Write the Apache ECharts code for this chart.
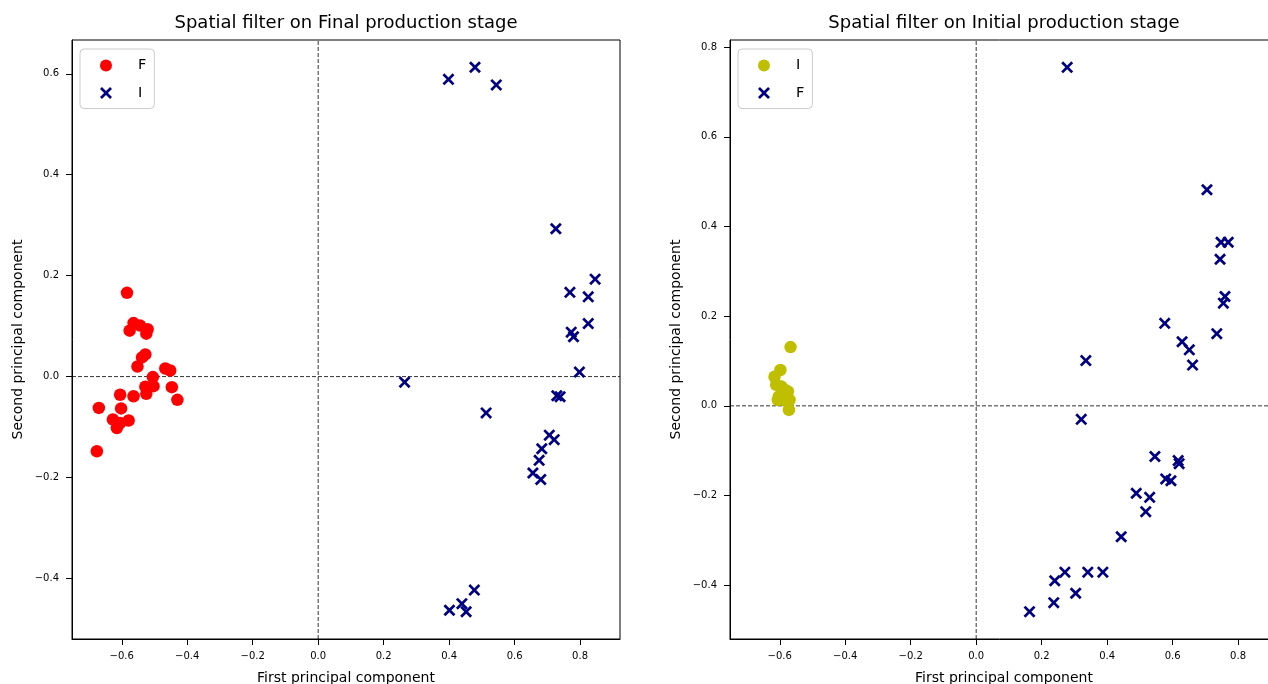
<!DOCTYPE html>
<html>
<head>
<meta charset="utf-8">
<script src="https://cdn.jsdelivr.net/npm/echarts@6/dist/echarts.min.js"></script>
<style>
  html, body { margin: 0; padding: 0; background: #ffffff; }
  #chart { width: 1268px; height: 684px; }
</style>
</head>
<body>
<div id="chart"></div>
<script>
// Principal-component scores, final production stage
const finalF = [
  [-0.584, 0.166], [-0.564, 0.106], [-0.576, 0.091], [-0.544, 0.101], [-0.521, 0.094],
  [-0.525, 0.085], [-0.528, 0.044], [-0.538, 0.038], [-0.552, 0.020], [-0.467, 0.016],
  [-0.452, 0.012], [-0.505, -0.001], [-0.528, -0.020], [-0.503, -0.019], [-0.525, -0.034],
  [-0.605, -0.036], [-0.564, -0.039], [-0.447, -0.021], [-0.430, -0.046], [-0.670, -0.062],
  [-0.602, -0.063], [-0.627, -0.085], [-0.579, -0.087], [-0.605, -0.092], [-0.615, -0.102],
  [-0.676, -0.148]
];
const finalI = [
  [0.398, 0.589], [0.479, 0.613], [0.544, 0.578], [0.726, 0.293], [0.846, 0.193],
  [0.769, 0.167], [0.825, 0.158], [0.825, 0.105], [0.773, 0.088], [0.780, 0.079],
  [0.798, 0.009], [0.729, -0.038], [0.739, -0.040], [0.706, -0.116], [0.721, -0.125],
  [0.683, -0.143], [0.675, -0.166], [0.656, -0.191], [0.680, -0.204], [0.264, -0.011],
  [0.513, -0.072], [0.477, -0.423], [0.439, -0.450], [0.401, -0.463], [0.452, -0.466]
];

// Principal-component scores, initial production stage
const initialI = [
  [-0.567, 0.131], [-0.598, 0.080], [-0.616, 0.065], [-0.611, 0.047], [-0.595, 0.043],
  [-0.585, 0.036], [-0.575, 0.032], [-0.603, 0.021], [-0.591, 0.017], [-0.606, 0.013],
  [-0.570, 0.013], [-0.580, 0.010], [-0.572, -0.009]
];
const initialF = [
  [0.278, 0.755], [0.705, 0.482], [0.748, 0.365], [0.770, 0.365], [0.745, 0.327],
  [0.760, 0.244], [0.755, 0.229], [0.576, 0.184], [0.735, 0.161], [0.629, 0.143],
  [0.651, 0.125], [0.661, 0.091], [0.335, 0.101], [0.321, -0.030], [0.546, -0.113],
  [0.617, -0.122], [0.620, -0.129], [0.579, -0.163], [0.595, -0.167], [0.489, -0.195],
  [0.530, -0.204], [0.518, -0.236], [0.443, -0.292], [0.271, -0.371], [0.341, -0.371],
  [0.387, -0.371], [0.240, -0.390], [0.304, -0.418], [0.237, -0.439], [0.163, -0.459]
];

// Axis ticks and limits
const xTicks = [-0.6, -0.4, -0.2, 0.0, 0.2, 0.4, 0.6, 0.8];
const yTicksFinal = [-0.4, -0.2, 0.0, 0.2, 0.4, 0.6];
const yTicksInitial = [-0.4, -0.2, 0.0, 0.2, 0.4, 0.6, 0.8];
const xRange = [-0.752, 0.922];
const yRangeFinal = [-0.520, 0.667];
const yRangeInitial = [-0.520, 0.816];

const FONT = 'DejaVu Sans';
const CROSS = 'path://M0,1.6L1.6,0L5,3.4L8.4,0L10,1.6L6.6,5L10,8.4L8.4,10L5,6.6L1.6,10L0,8.4L3.4,5Z';
const RED = '#ff0000', NAVY = '#000080', OLIVE = '#bfbf00';
const AXIS_LINE = { color: '#000', width: 1 };

const fmt = v => v.toFixed(1).replace('-', '\u2212');

function xAxis(gridIndex) {
  return {
    type: 'value', gridIndex, min: xRange[0], max: xRange[1],
    name: 'First principal component', nameLocation: 'middle', nameGap: 32,
    nameTextStyle: { fontFamily: FONT, fontSize: 14, color: '#000' },
    axisLine: { show: true, onZero: false, lineStyle: AXIS_LINE },
    axisTick: { show: true, length: 6, customValues: xTicks, lineStyle: AXIS_LINE },
    axisLabel: { customValues: xTicks, formatter: fmt, fontFamily: FONT, fontSize: 10, color: '#000', margin: 12 },
    splitLine: { show: false }
  };
}
function yAxis(gridIndex, range, ticks) {
  return {
    type: 'value', gridIndex, min: range[0], max: range[1],
    name: 'Second principal component', nameLocation: 'middle', nameGap: 47,
    nameTextStyle: { fontFamily: FONT, fontSize: 14, color: '#000' },
    axisLine: { show: true, onZero: false, lineStyle: AXIS_LINE },
    axisTick: { show: true, length: 6, customValues: ticks, lineStyle: AXIS_LINE },
    axisLabel: { customValues: ticks, formatter: fmt, fontFamily: FONT, fontSize: 10, color: '#000', margin: 13 },
    splitLine: { show: false }
  };
}
function zeroLines(idx, yRange) {
  const style = { color: '#000', width: 0.8, type: [4, 2] };
  return [
    { type: 'line', xAxisIndex: idx, yAxisIndex: idx, data: [[0, yRange[0]], [0, yRange[1]]],
      symbol: 'none', silent: true, z: 1, lineStyle: style },
    { type: 'line', xAxisIndex: idx, yAxisIndex: idx, data: [[xRange[0], 0], [xRange[1], 0]],
      symbol: 'none', silent: true, z: 1, lineStyle: style }
  ];
}
function legend(left, items) {
  return {
    orient: 'vertical', left, top: 49, selectedMode: false,
    itemWidth: 12, itemHeight: 12, itemGap: 12.5,
    padding: [9, 8, 8, 20],
    backgroundColor: 'rgba(255,255,255,0.8)', borderColor: '#cccccc', borderWidth: 1, borderRadius: 4,
    textStyle: { fontFamily: FONT, fontSize: 14.5, lineHeight: 14, color: '#000', padding: [0, 0, 0, 21] },
    data: items
  };
}
function grid(left) {
  return {
    left, top: 40, width: 548, height: 599, outerBoundsMode: 'none',
    show: true, borderColor: '#000', borderWidth: 1, backgroundColor: 'transparent'
  };
}

const chart = echarts.init(document.getElementById('chart'), null, { renderer: 'canvas' });
chart.setOption({
  animation: false,
  backgroundColor: '#ffffff',
  title: [
    { text: 'Spatial filter on Final production stage', left: 346, top: 14, textAlign: 'center', padding: 0,
      textStyle: { fontFamily: FONT, fontSize: 18, fontWeight: 'normal', color: '#000' } },
    { text: 'Spatial filter on Initial production stage', left: 1004, top: 14, textAlign: 'center', padding: 0,
      textStyle: { fontFamily: FONT, fontSize: 18, fontWeight: 'normal', color: '#000' } }
  ],
  grid: [grid(72), grid(730)],
  xAxis: [xAxis(0), xAxis(1)],
  yAxis: [yAxis(0, yRangeFinal, yTicksFinal), yAxis(1, yRangeInitial, yTicksInitial)],
  legend: [
    legend(80, [
      { name: 'F', icon: 'circle', itemStyle: { color: RED } },
      { name: 'I', icon: CROSS, itemStyle: { color: NAVY } }
    ]),
    legend(738, [
      { name: 'I', icon: 'circle', itemStyle: { color: OLIVE } },
      { name: 'F', icon: CROSS, itemStyle: { color: NAVY } }
    ])
  ],
  series: [
    ...zeroLines(0, yRangeFinal),
    ...zeroLines(1, yRangeInitial),
    { name: 'F', type: 'scatter', xAxisIndex: 0, yAxisIndex: 0, data: finalF,
      symbol: 'circle', symbolSize: 12.5, itemStyle: { color: RED, opacity: 1 }, z: 3 },
    { name: 'I', type: 'scatter', xAxisIndex: 0, yAxisIndex: 0, data: finalI,
      symbol: CROSS, symbolSize: 12, itemStyle: { color: NAVY, opacity: 1 }, z: 3 },
    { name: 'I', type: 'scatter', xAxisIndex: 1, yAxisIndex: 1, data: initialI,
      symbol: 'circle', symbolSize: 12.5, itemStyle: { color: OLIVE, opacity: 1 }, z: 3 },
    { name: 'F', type: 'scatter', xAxisIndex: 1, yAxisIndex: 1, data: initialF,
      symbol: CROSS, symbolSize: 12, itemStyle: { color: NAVY, opacity: 1 }, z: 3 }
  ]
});
</script>
</body>
</html>
